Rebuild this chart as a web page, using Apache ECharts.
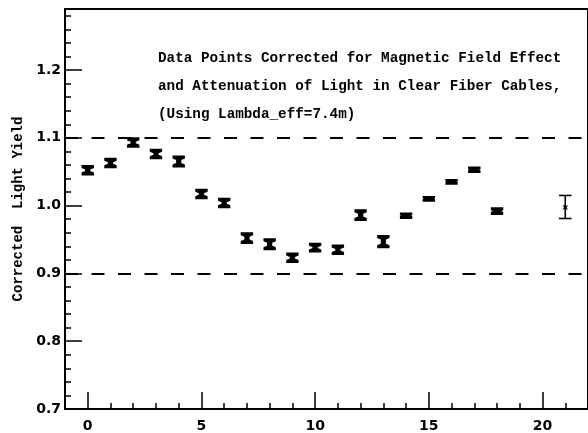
<!DOCTYPE html>
<html>
<head>
<meta charset="utf-8">
<title>Corrected Light Yield</title>
<script src="https://cdn.jsdelivr.net/npm/echarts@6/dist/echarts.min.js"></script>
<style>
  html, body { margin: 0; padding: 0; background: #fff; }
  #chart { width: 588px; height: 433px; }
</style>
</head>
<body>
<div id="chart"></div>
<script>
// Channel numbers and their corrected light yield (value, half error)
const channels = [0, 1, 2, 3, 4, 5, 6, 7, 8, 9, 10, 11, 12, 13, 14, 15, 16, 17, 18];
const yieldValues = [1.052, 1.063, 1.093, 1.076, 1.065, 1.017, 1.004, 0.952, 0.943, 0.923,
                     0.938, 0.935, 0.986, 0.947, 0.985, 1.010, 1.035, 1.053, 0.992];
const yieldErrors = [0.007, 0.007, 0.007, 0.007, 0.008, 0.007, 0.007, 0.008, 0.008, 0.007,
                     0.0065, 0.007, 0.008, 0.009, 0.004, 0.0035, 0.0035, 0.004, 0.005];

// Reference point drawn with thin error bar
const refChannel = [21];
const refValue = [0.998];
const refError = [0.017];

// Acceptance band
const bandLimits = [1.1, 0.9];

// Axis ticks and labels
const xRange = [-1, 22];
const xMajorTicks = [0, 5, 10, 15, 20];
const xMinorTicks = [0, 1, 2, 3, 4, 5, 6, 7, 8, 9, 10, 11, 12, 13, 14, 15, 16, 17, 18, 19, 20, 21];
const yRange = [0.7, 1.29];
const yMajorTicks = [0.7, 0.8, 0.9, 1.0, 1.1, 1.2];
const yMinorTicks = [0.72, 0.74, 0.76, 0.78, 0.82, 0.84, 0.86, 0.88, 0.92, 0.94, 0.96, 0.98,
                     1.02, 1.04, 1.06, 1.08, 1.12, 1.14, 1.16, 1.18, 1.22, 1.24, 1.26, 1.28];

const noteLines = [
  'Data Points Corrected for Magnetic Field Effect',
  'and Attenuation of Light in Clear Fiber Cables,',
  '(Using Lambda_eff=7.4m)'
];
const yTitle = 'Corrected  Light Yield';

const labelFont = { fontFamily: 'DejaVu Sans', fontWeight: 'bold', fontSize: 14, color: '#000' };
const typeFont = '"Liberation Mono", "DejaVu Sans Mono", monospace';

// Thick hourglass-shaped error bar
function renderBowtie(params, api) {
  const x = api.value(0), v = api.value(1), e = api.value(2);
  const top = api.coord([x, v + e]);
  const bot = api.coord([x, v - e]);
  const cx = top[0], t = top[1] - 0.5, b = bot[1] + 0.5;
  const w = 6.2, waist = 2.6;
  const ct = Math.min(3, (b - t) / 2 - 0.5);
  return {
    type: 'polygon',
    shape: {
      points: [
        [cx - w, t], [cx + w, t], [cx + w, t + ct], [cx + waist, t + ct + 1.5], [cx + waist, b - ct - 1.5],
        [cx + w, b - ct], [cx + w, b], [cx - w, b], [cx - w, b - ct], [cx - waist, b - ct - 1.5],
        [cx - waist, t + ct + 1.5], [cx - w, t + ct]
      ].map(p => [p[0], Math.min(Math.max(p[1], t), b)])
    },
    style: { fill: '#000' }
  };
}

// Thin error bar with caps and a small star at the value
function renderThinBar(params, api) {
  const x = api.value(0), v = api.value(1), e = api.value(2);
  const top = api.coord([x, v + e]);
  const mid = api.coord([x, v]);
  const bot = api.coord([x, v - e]);
  const cx = top[0], w = 6.3, s = 3;
  const line = { stroke: '#000', lineWidth: 1.6 };
  return {
    type: 'group',
    children: [
      { type: 'line', shape: { x1: cx, y1: top[1], x2: cx, y2: bot[1] }, style: line },
      { type: 'line', shape: { x1: cx - w, y1: top[1], x2: cx + w, y2: top[1] }, style: line },
      { type: 'line', shape: { x1: cx - w, y1: bot[1], x2: cx + w, y2: bot[1] }, style: line },
      {
        type: 'polygon',
        shape: {
          points: [
            [cx, mid[1] - s - 1], [cx + 1, mid[1] - 1], [cx + s, mid[1] - 2], [cx + 1.2, mid[1] + 0.5],
            [cx + s, mid[1] + 3], [cx, mid[1] + 1.5], [cx - s, mid[1] + 3], [cx - 1.2, mid[1] + 0.5],
            [cx - s, mid[1] - 2], [cx - 1, mid[1] - 1]
          ]
        },
        style: { fill: '#000' }
      }
    ]
  };
}

const chart = echarts.init(document.getElementById('chart'), null, { renderer: 'canvas' });

const axisLineStyle = { color: '#000', width: 2 };

chart.setOption({
  animation: false,
  backgroundColor: '#fff',
  grid: {
    left: 65, top: 9, right: -3, bottom: 21,
    show: true, borderColor: '#000', borderWidth: 2, backgroundColor: 'transparent'
  },
  xAxis: [
    {
      type: 'value', min: xRange[0], max: xRange[1], position: 'bottom',
      axisLine: { show: true, onZero: false, lineStyle: axisLineStyle },
      axisTick: { show: true, inside: true, length: 17, customValues: xMajorTicks,
                  lineStyle: { color: '#000', width: 1.5 } },
      axisLabel: Object.assign({ margin: 10, customValues: xMajorTicks }, labelFont),
      splitLine: { show: false }
    },
    {
      type: 'value', min: xRange[0], max: xRange[1], position: 'bottom',
      axisLine: { show: false, onZero: false },
      axisTick: { show: true, inside: true, length: 6, customValues: xMinorTicks,
                  lineStyle: { color: '#000', width: 1.5 } },
      axisLabel: { show: false },
      splitLine: { show: false }
    }
  ],
  yAxis: [
    {
      type: 'value', min: yRange[0], max: yRange[1], position: 'left',
      name: yTitle, nameLocation: 'middle', nameRotate: 90, nameGap: 22,
      nameTextStyle: { fontFamily: typeFont, fontWeight: 'bold', fontSize: 14, color: '#000' },
      axisLine: { show: true, onZero: false, lineStyle: axisLineStyle },
      axisTick: { show: true, inside: true, length: 17, customValues: yMajorTicks,
                  lineStyle: { color: '#000', width: 1.5 } },
      axisLabel: Object.assign({
        margin: 4, customValues: yMajorTicks,
        formatter: v => v.toFixed(1)
      }, labelFont),
      splitLine: { show: false }
    },
    {
      type: 'value', min: yRange[0], max: yRange[1], position: 'left',
      axisLine: { show: false, onZero: false },
      axisTick: { show: true, inside: true, length: 6, customValues: yMinorTicks,
                  lineStyle: { color: '#000', width: 1.5 } },
      axisLabel: { show: false },
      splitLine: { show: false }
    }
  ],
  graphic: noteLines.map((txt, i) => ({
    type: 'text',
    left: 158,
    top: 51 + i * 28,
    style: {
      text: txt,
      font: 'bold 14.3px ' + typeFont,
      fill: '#000'
    }
  })),
  series: [
    {
      name: 'Corrected yield',
      type: 'custom',
      xAxisIndex: 0, yAxisIndex: 0,
      renderItem: renderBowtie,
      data: channels.map((c, i) => [c, yieldValues[i], yieldErrors[i]]),
      z: 5,
      markLine: {
        silent: true,
        symbol: 'none',
        label: { show: false },
        lineStyle: { color: '#000', width: 2, type: [13, 13.5] },
        data: bandLimits.map(v => ({ yAxis: v }))
      }
    },
    {
      name: 'Reference',
      type: 'custom',
      xAxisIndex: 0, yAxisIndex: 0,
      renderItem: renderThinBar,
      data: refChannel.map((c, i) => [c, refValue[i], refError[i]]),
      z: 5
    }
  ]
});
</script>
</body>
</html>
